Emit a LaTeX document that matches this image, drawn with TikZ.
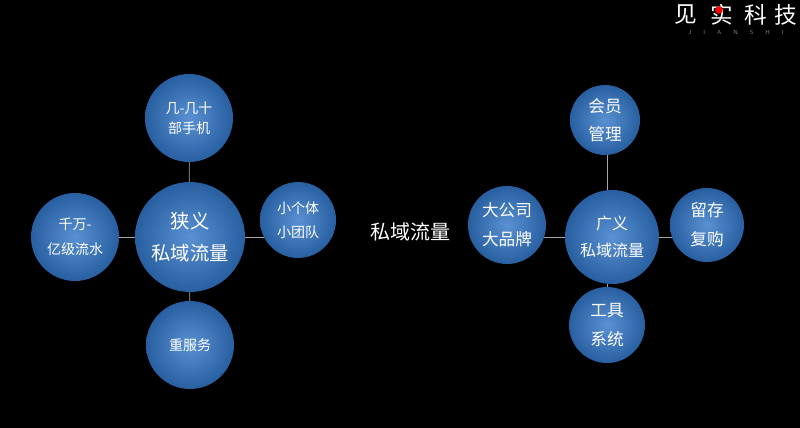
\documentclass[tikz,border=0pt]{standalone}
\usepackage{fontspec}
\newfontfamily\cjk{Noto Sans CJK SC}
\usetikzlibrary{shadings}
\definecolor{ballhi}{RGB}{90,145,210}
\definecolor{balllo}{RGB}{40,95,160}
\tikzset{
  ball/.style={circle,inner sep=0pt,minimum size=#1*0.75pt,
    shading=radial,inner color=ballhi,outer color=balllo,
    text=white,align=center,font=\cjk},
  link/.style={draw=gray!70,line width=0.6pt},
  logochar/.style={text=white,font=\cjk\fontsize{17}{18}\selectfont}
}
\begin{document}
\begin{tikzpicture}[x=0.75pt,y=0.75pt,yscale=-1,xscale=1]
\fill[black] (0,0) rectangle (800,428);
\useasboundingbox (0,0) rectangle (800,428);

% left group
\path[link] (75,237) -- (298,237);
\path[link] (189,118) -- (190,345);
\node[ball=110,font=\cjk\fontsize{14.5}{24}\selectfont] (narrow) at (190,237) {狭义\\私域流量};
\node[ball=88,font=\cjk\fontsize{10.5}{15}\selectfont] (phones) at (189,118) {几-几十\\部手机};
\node[ball=88,font=\cjk\fontsize{10.5}{19}\selectfont] (flow) at (75,237) {千万-\\亿级流水};
\node[ball=76,font=\cjk\fontsize{10.5}{18}\selectfont] (small) at (298,220) {小个体\\小团队};
\node[ball=88,font=\cjk\fontsize{10.5}{16}\selectfont] (service) at (190,345) {重服务};

% middle label
\node[text=white,font=\cjk\fontsize{15}{18}\selectfont] (title) at (410,232) {私域流量};

% right group
\path[link] (507,237) -- (707,237);
\path[link] (607,120) -- (607,325);
\node[ball=94,font=\cjk\fontsize{12}{20}\selectfont] (broad) at (612,237) {广义\\私域流量};
\node[ball=70,font=\cjk\fontsize{12.5}{21}\selectfont] (member) at (605,120) {会员\\管理};
\node[ball=78,font=\cjk\fontsize{12.5}{22}\selectfont] (brand) at (507,225) {大公司\\大品牌};
\node[ball=74,font=\cjk\fontsize{12.5}{22}\selectfont] (keep) at (707,225) {留存\\复购};
\node[ball=76,font=\cjk\fontsize{12.5}{22}\selectfont] (tools) at (607,325) {工具\\系统};

% logo
\node[logochar] (logoa) at (686,15) {见};
\node[logochar] (logob) at (722,15) {实};
\node[logochar] (logoc) at (756,15) {科};
\node[logochar] (logod) at (786,15) {技};
\fill[red] (719,10) circle (3.8);
\node[text=gray,font=\sffamily\fontsize{4.5}{5}\selectfont] (logosub) at (736,32) {J\hspace{9pt}I\hspace{9pt}A\hspace{9pt}N\hspace{9pt}S\hspace{9pt}H\hspace{9pt}I};
\end{tikzpicture}
\end{document}
